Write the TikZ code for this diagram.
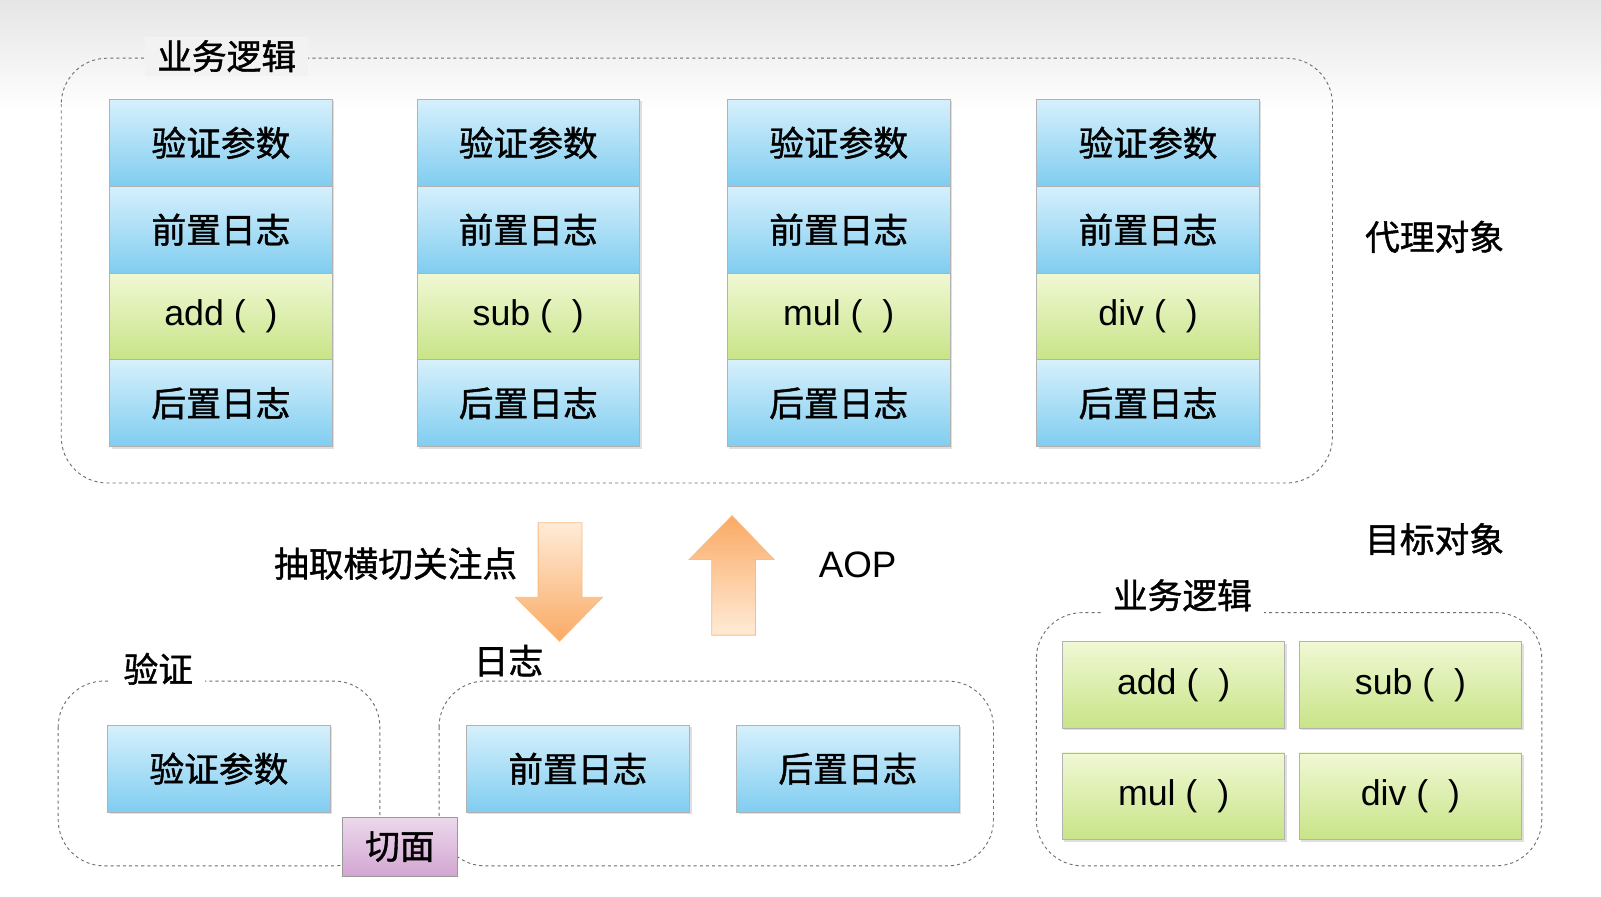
\documentclass[tikz,border=0pt]{standalone}
\usepackage{fontspec}
\setmainfont{Noto Sans CJK SC}[BoldFont=Noto Sans CJK SC,BoldFeatures={FakeBold=1.2}]
\newfontfamily\lat{Liberation Sans}
\usetikzlibrary{shadows}
\definecolor{bluetop}{RGB}{214,240,252}
\definecolor{bluebot}{RGB}{128,205,240}
\definecolor{greentop}{RGB}{240,248,212}
\definecolor{greenbot}{RGB}{200,228,135}
\definecolor{dash}{RGB}{110,110,110}
\definecolor{orangetop}{RGB}{255,235,215}
\definecolor{orangebot}{RGB}{250,170,100}
\tikzset{
 cell/.style={draw=white!70!black,line width=0.8pt,top color=bluetop,bottom color=bluebot,minimum width=#1,inner sep=0pt,font=\fontsize{34}{36}\selectfont\bfseries,drop shadow={opacity=0.25,shadow xshift=2pt,shadow yshift=-2pt}},
 fcell/.style={cell=#1,top color=greentop,bottom color=greenbot,font=\fontsize{35}{36}\selectfont\lat},
 grp/.style={draw=dash,dashed,line width=0.9pt,rounded corners=45pt},
 glabel/.style={fill=white,inner xsep=12pt,font=\fontsize{34}{36}\selectfont\bfseries},
 txt/.style={font=\fontsize{34}{36}\selectfont\bfseries},
 arr/.style={draw=orangebot!80!white,line width=0.8pt}
}
\begin{document}
\begin{tikzpicture}[x=1pt,y=-1pt]
\useasboundingbox (0,0) rectangle (1568,878);
\fill[top color=black!10,bottom color=white] (0,0) rectangle (1568,110);
\fill[white] (0,110) rectangle (1568,878);
% top group
\draw[grp] (60,57) rectangle (1305,473);
\node[glabel,fill=black!5] (g1) at (222,55) {业务逻辑};
\foreach \x/\f/\n in {107/add/a,408/sub/b,712/mul/c,1015/div/d}{
 \node[cell=218pt,minimum height=85pt,anchor=north west] (\n1) at (\x,97) {验证参数};
 \node[cell=218pt,minimum height=85pt,anchor=north west] (\n2) at (\x,182) {前置日志};
 \node[fcell=218pt,minimum height=85pt,anchor=north west] (\n3) at (\x,267) {\f\ (\ \ )};
 \node[cell=218pt,minimum height=85pt,anchor=north west] (\n4) at (\x,352) {后置日志};
}
\node[txt] (proxy) at (1405,232) {代理对象};
\node[txt] (target) at (1405,528) {目标对象};
% arrows
\path[arr,top color=orangetop,bottom color=orangebot] (527,512) -- (570,512) -- (570,585) -- (590,585) -- (548,628) -- (505,585) -- (527,585) -- cycle;
\path[arr,top color=orangebot,bottom color=orangetop] (697,622) -- (740,622) -- (740,548) -- (758,548) -- (717,505) -- (675,548) -- (697,548) -- cycle;
\node[txt,anchor=east] (extract) at (510,552) {抽取横切关注点};
\node[txt,font=\fontsize{36}{38}\selectfont\lat] (aop) at (840,553) {AOP};
% bottom left
\draw[grp] (57,667) rectangle (372,848);
\node[glabel] (g2) at (155,655) {验证};
\node[cell=218pt,minimum height=85pt,anchor=north west] (v1) at (105,710) {验证参数};
% middle
\draw[grp] (430,667) rectangle (973,848);
\node[glabel] (g3) at (498,647) {日志};
\node[cell=219pt,minimum height=85pt,anchor=north west] (l1) at (456,710) {前置日志};
\node[cell=218pt,minimum height=85pt,anchor=north west] (l2) at (721,710) {后置日志};
\node[draw=white!60!black,top color=violet!15,bottom color=violet!35,minimum width=113pt,minimum height=58pt,anchor=north west,inner sep=0pt,font=\fontsize{34}{36}\selectfont\bfseries] (qm) at (335,800) {切面};
% right
\draw[grp] (1015,600) rectangle (1510,848);
\node[glabel] (g4) at (1158,583) {业务逻辑};
\node[fcell=218pt,minimum height=85pt,anchor=north west] (t1) at (1040,628) {add\ (\ \ )};
\node[fcell=218pt,minimum height=85pt,anchor=north west] (t2) at (1272,628) {sub\ (\ \ )};
\node[fcell=218pt,minimum height=85pt,anchor=north west] (t3) at (1040,737) {mul\ (\ \ )};
\node[fcell=218pt,minimum height=85pt,anchor=north west] (t4) at (1272,737) {div\ (\ \ )};
\end{tikzpicture}
\end{document}
